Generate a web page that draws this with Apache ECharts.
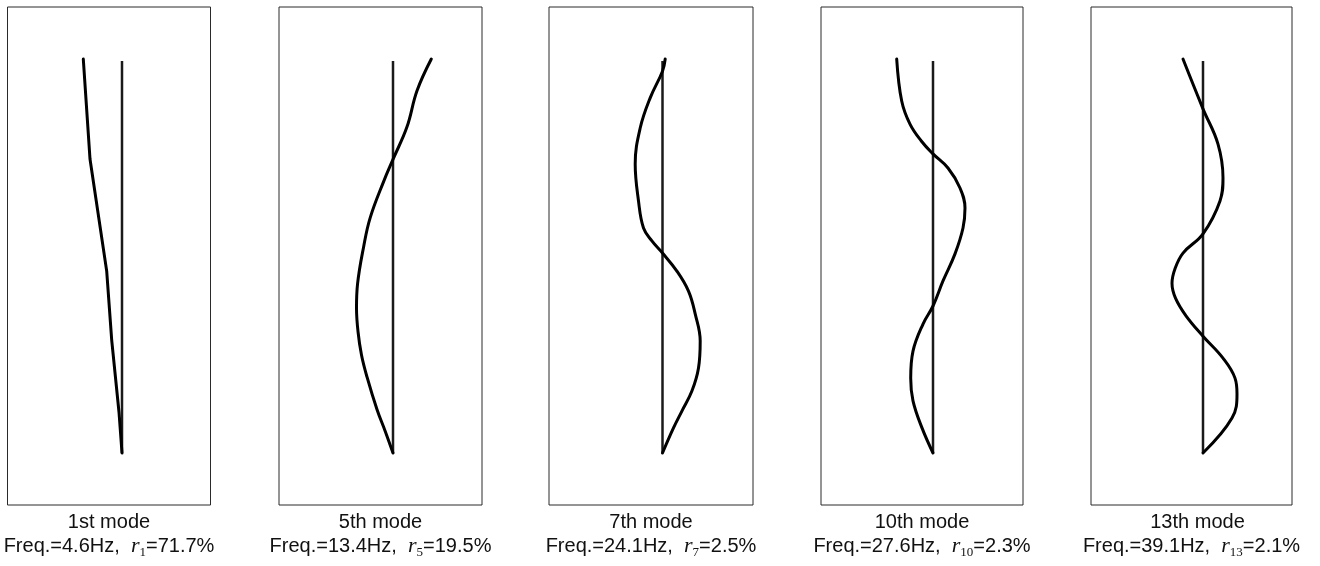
<!DOCTYPE html>
<html>
<head>
<meta charset="utf-8">
<script src="https://cdn.jsdelivr.net/npm/echarts@6/dist/echarts.min.js"></script>
<style>
html,body{margin:0;padding:0;background:#fff;}
#c{width:1320px;height:566px;}
</style>
</head>
<body>
<div id="c"></div>
<script>
// ---- data (heights normalised 0 = base, 1 = top; displacement relative units) ----
const modeNames = ['1st mode', '5th mode', '7th mode', '10th mode', '13th mode'];
const modeIndex = ['1', '5', '7', '10', '13'];
const freqs = ['4.6', '13.4', '24.1', '27.6', '39.1'];
const ratios = ['71.7', '19.5', '2.5', '2.3', '2.1'];

const refHeights = [0, 1];
const refDisp = [0, 0];

const heights1 = [0, 0.104, 0.288, 0.464, 0.75, 1.005];
const disp1    = [0, -0.03, -0.103, -0.153, -0.32, -0.387];

const heights5 = [0, 0.055, 0.111, 0.194, 0.25, 0.31, 0.37, 0.43, 0.527, 0.601, 0.693, 0.749, 0.832, 0.924, 1.005];
const disp5    = [0, -0.077, -0.16, -0.26, -0.315, -0.35, -0.365, -0.355, -0.293, -0.227, -0.093, 0, 0.14, 0.24, 0.383];

const heights7 = [0, 0.064, 0.107, 0.158, 0.217, 0.286, 0.355, 0.413, 0.464, 0.510, 0.541, 0.574, 0.643, 0.737, 0.829, 0.906, 0.974, 1.005];
const disp7    = [0, 0.11, 0.194, 0.294, 0.36, 0.377, 0.327, 0.26, 0.144, 0, -0.106, -0.19, -0.24, -0.273, -0.223, -0.123, 0, 0.027];

const heights10 = [0, 0.064, 0.133, 0.191, 0.260, 0.329, 0.375, 0.439, 0.508, 0.574, 0.625, 0.676, 0.727, 0.763, 0.796, 0.839, 0.898, 1.005];
const disp10    = [0, -0.11, -0.2, -0.223, -0.2, -0.1, 0, 0.1, 0.22, 0.3, 0.32, 0.27, 0.15, 0, -0.117, -0.23, -0.313, -0.363];

const heights13 = [0, 0.089, 0.151, 0.191, 0.242, 0.298, 0.35, 0.395, 0.433, 0.47, 0.51, 0.559, 0.643, 0.702, 0.788, 0.878, 1.005];
const disp13    = [0, 0.29, 0.34, 0.32, 0.2, 0, -0.17, -0.275, -0.31, -0.28, -0.2, 0, 0.17, 0.2, 0.15, 0, -0.2];

const modeHeights = [heights1, heights5, heights7, heights10, heights13];
const modeDisp = [disp1, disp5, disp7, disp10, disp13];

// ---- layout ----
const boxLeft  = [7.5, 279, 549, 821, 1091];
const boxRight = [210.5, 482, 753, 1023, 1292];
const refX     = [122, 393, 662.5, 933, 1203];
const boxTop = 7, boxBottom = 505;
const refTopPx = 61, refBotPx = 453;
const unitPx = 100;

const pxPerH = (refBotPx - refTopPx);
const yMin = -(boxBottom - refBotPx) / pxPerH;
const yMax = 1 + (refTopPx - boxTop) / pxPerH;

const grids = [], xAxes = [], yAxes = [], series = [], graphics = [];
for (let i = 0; i < 5; i++) {
  grids.push({
    left: boxLeft[i], top: boxTop,
    width: boxRight[i] - boxLeft[i], height: boxBottom - boxTop,
    show: true, borderColor: '#2a2a2a', borderWidth: 1, backgroundColor: 'transparent',
    containLabel: false
  });
  xAxes.push({
    type: 'value', gridIndex: i,
    min: (boxLeft[i] - refX[i]) / unitPx, max: (boxRight[i] - refX[i]) / unitPx,
    show: false
  });
  yAxes.push({
    type: 'value', gridIndex: i, min: yMin, max: yMax, show: false
  });
  series.push({
    type: 'line', xAxisIndex: i, yAxisIndex: i,
    data: refHeights.map((h, k) => [refDisp[k], h]),
    showSymbol: false, silent: true,
    lineStyle: { color: '#1a1a1a', width: 2.5 }, z: 2
  });
  series.push({
    type: 'line', xAxisIndex: i, yAxisIndex: i,
    data: modeHeights[i].map((h, k) => [modeDisp[i][k], h]),
    showSymbol: false, silent: true,
    smooth: i === 0 ? false : 0.4,
    lineStyle: { color: '#000', width: 3, cap: 'round', join: 'round' }, z: 3
  });
  const cx = (boxLeft[i] + boxRight[i]) / 2;
  graphics.push({
    type: 'text', x: cx + (i === 4 ? 6 : 0), y: 522,
    style: {
      text: modeNames[i], align: 'center', verticalAlign: 'middle',
      fontFamily: 'Liberation Sans', fontSize: 20, fill: '#111'
    }
  });
  graphics.push({
    type: 'text', x: cx, y: 546,
    style: {
      text: '{a|Freq.=' + freqs[i] + 'Hz,  }{r|r}{s|' + modeIndex[i] + '}{a|=' + ratios[i] + '%}',
      align: 'center', verticalAlign: 'middle',
      rich: {
        a: { fontFamily: 'Liberation Sans', fontSize: 20, fill: '#111', lineHeight: 26 },
        r: { fontFamily: 'Liberation Serif', fontStyle: 'italic', fontSize: 22, fill: '#111', lineHeight: 26 },
        s: { fontFamily: 'Liberation Serif', fontSize: 13, fill: '#111', lineHeight: 26, verticalAlign: 'bottom' }
      }
    }
  });
}

const chart = echarts.init(document.getElementById('c'), null, { renderer: 'canvas' });
chart.setOption({
  animation: false,
  backgroundColor: '#fff',
  grid: grids,
  xAxis: xAxes,
  yAxis: yAxes,
  series: series,
  graphic: graphics
});
</script>
</body>
</html>
